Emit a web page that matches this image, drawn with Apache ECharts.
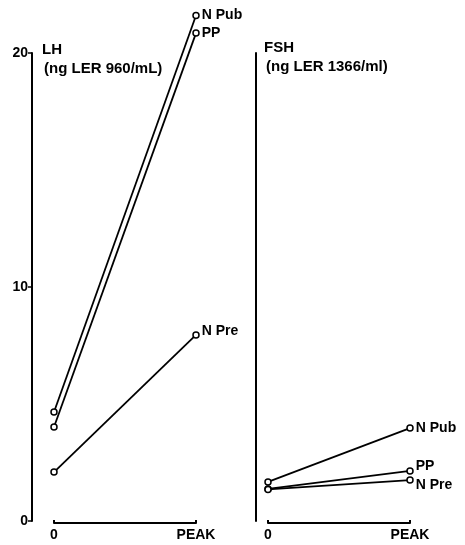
<!DOCTYPE html>
<html><head><meta charset="utf-8">
<script src="https://cdn.jsdelivr.net/npm/echarts@6/dist/echarts.min.js"></script>
<style>html,body{margin:0;padding:0;background:#fff}#c{width:465px;height:545px}</style>
</head><body><div id="c"></div>
<script>
const xLabels = ['0', 'PEAK'];
const seriesNames = ['N Pub', 'PP', 'N Pre'];
const lhValues = [[4.66, 21.6], [4.02, 20.85], [2.09, 7.95]];
const fshValues = [[1.67, 3.97], [1.37, 2.14], [1.35, 1.75]];
const yTicks = [0, 10, 20];
const lhTitle = ['LH', '(ng LER 960/mL)'];
const fshTitle = ['FSH', '(ng LER 1366/ml)'];

const font = 'Liberation Sans, Arial, sans-serif';
const chart = echarts.init(document.getElementById('c'), null, {renderer: 'canvas'});

function xAxis(gi) {
  return {
    type: 'value', gridIndex: gi, min: 0, max: 1, interval: 1, offset: 2,
    axisLine: {show: true, onZero: false, lineStyle: {color: '#000', width: 2}},
    axisTick: {show: true, inside: true, length: 3, lineStyle: {color: '#000', width: 2}},
    axisLabel: {color: '#000', fontFamily: font, fontWeight: 'bold', fontSize: 14, margin: 5,
      formatter: v => xLabels[v]},
    splitLine: {show: false}
  };
}
function yAxis(gi, off, showLabels) {
  return {
    type: 'value', gridIndex: gi, min: 0, max: 20, interval: 10, offset: off,
    axisLine: {show: true, onZero: false, lineStyle: {color: '#000', width: 2}},
    axisTick: {show: showLabels, length: 4, lineStyle: {color: '#000', width: 1.5}},
    axisLabel: {show: showLabels, color: '#000', fontFamily: font, fontWeight: 'bold', fontSize: 14, margin: 4,
      formatter: v => yTicks.indexOf(v) >= 0 ? String(v) : ''},
    splitLine: {show: false}
  };
}
const labelOffsets = {
  lh: [[0, 0], [0, 0], [0, -4]],
  fsh: [[0, 0], [0, -5], [0, 5]]
};
function mkSeries(vals, gi, key) {
  return vals.map((v, i) => ({
    type: 'line', name: seriesNames[i], xAxisIndex: gi, yAxisIndex: gi,
    data: v.map((y, j) => {
      const d = {value: [j, y]};
      if (j === 1) d.label = {show: true, position: 'right', distance: 2, formatter: seriesNames[i],
        offset: labelOffsets[key][i], color: '#000', fontFamily: font, fontWeight: 'bold', fontSize: 14};
      return d;
    }),
    symbol: 'circle', symbolSize: 6, clip: false,
    itemStyle: {color: '#fff', borderColor: '#000', borderWidth: 1.5},
    lineStyle: {color: '#000', width: 1.8},
    animation: false, silent: true
  }));
}
function titleText(lines, x, y) {
  return [
    {type: 'text', left: x, top: y, style: {text: lines[0], fill: '#000', font: 'bold 15px ' + font}},
    {type: 'text', left: x + 2, top: y + 19, style: {text: lines[1], fill: '#000', font: 'bold 15px ' + font}}
  ];
}
chart.setOption({
  backgroundColor: '#fff',
  animation: false,
  grid: [
    {left: 54, width: 142, top: 53, height: 468},
    {left: 268, width: 142, top: 53, height: 468}
  ],
  xAxis: [xAxis(0), xAxis(1)],
  yAxis: [yAxis(0, 22, true), yAxis(1, 12, false)],
  series: mkSeries(lhValues, 0, 'lh').concat(mkSeries(fshValues, 1, 'fsh')),
  graphic: titleText(lhTitle, 42, 42).concat(titleText(fshTitle, 264, 40))
});
</script></body></html>
